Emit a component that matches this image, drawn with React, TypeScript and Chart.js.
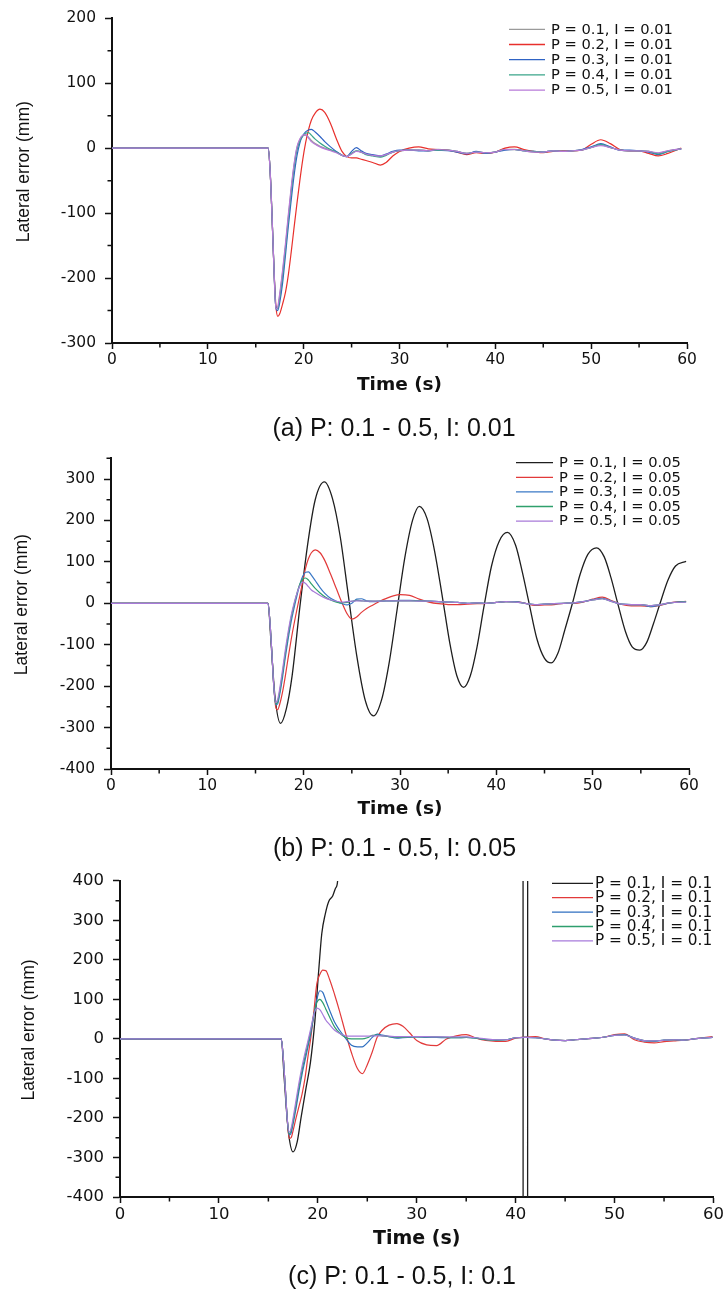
import React, { useEffect, useRef } from 'react';
import { Chart, registerables } from 'chart.js';

Chart.register(...registerables);

// ---------- shared axis ticks ----------
const X_TICKS = [0, 10, 20, 30, 40, 50, 60];
const X_MINOR = [5, 15, 25, 35, 45, 55];
const X_TITLE = 'Time (s)';
const Y_TITLE = 'Lateral error (mm)';

// ---------- (a) P: 0.1 - 0.5, I: 0.01 ----------
const TIME_A = [0, 16.3, 16.5, 16.7, 16.9, 17.1, 17.3, 17.5, 17.8, 18.1, 18.4, 18.7, 19.0, 19.3, 19.6, 19.9, 20.2, 20.5, 20.8, 21.2, 21.7, 22.2, 22.8, 23.4, 24.0, 24.5, 25.0, 25.5, 26.0, 26.5, 27.2, 28.0, 28.6, 29.3, 30, 31, 32, 33, 34, 35, 36, 37, 38, 39, 40, 41, 42, 43, 44, 45, 46, 47, 48, 49, 50, 51, 52, 53, 54, 55, 56, 57, 58, 59.4];
const A_P1 = [0, 0, -35, -105, -185, -246, -246, -227, -192, -152, -107, -64, -27, 0, 13, 19, 20, 17, 12, 7, 3, 0, -3, -6, -11, -13, -8, -4, -6, -9, -11, -13, -10, -6, -4, -3, -3, -4, -2, -3, -5, -8, -6, -7, -6, -2, -2, -4, -6, -6, -4, -5, -4, -3, 1, 5, 1, -3, -4, -4, -5, -8, -4, -1];
const A_P2 = [0, 0, -35, -105, -185, -242, -259, -255, -240, -222, -195, -160, -122, -85, -50, -18, 8, 28, 43, 54, 60, 55, 38, 15, -5, -13, -15, -15, -17, -19, -22, -26, -22, -12, -5, 0, 2, -1, -2, -3, -6, -10, -7, -8, -6, 0, 2, -2, -5, -7, -5, -4, -4, -3, 6, 13, 7, -2, -4, -4, -8, -12, -8, 0];
const A_P3 = [0, 0, -35, -105, -185, -245, -250, -238, -208, -165, -120, -80, -42, -12, 8, 19, 25, 28, 29, 25, 18, 10, 2, -5, -11, -13, -5, 1, -4, -8, -10, -12, -9, -5, -3, -3, -4, -4, -3, -4, -6, -9, -5, -8, -6, -3, -2, -4, -5, -6, -4, -5, -4, -2, 2, 7, 2, -3, -3, -4, -6, -10, -5, -1];
const A_P4 = [0, 0, -35, -105, -185, -247, -247, -230, -197, -155, -110, -68, -30, -3, 11, 19, 23, 24, 20, 14, 8, 3, -2, -6, -11, -13, -8, -4, -6, -10, -12, -14, -11, -6, -4, -3, -3, -4, -3, -3, -5, -8, -6, -7, -6, -2, -2, -4, -5, -6, -4, -5, -4, -3, 1, 6, 1, -3, -4, -4, -5, -9, -5, -1];
const A_P5 = [0, 0, -35, -105, -185, -248, -244, -224, -188, -147, -102, -60, -24, 2, 14, 20, 21, 16, 10, 6, 2, -1, -4, -7, -11, -13, -9, -5, -6, -9, -11, -12, -10, -6, -4, -3, -3, -4, -2, -3, -5, -8, -6, -7, -6, -2, -2, -4, -6, -6, -4, -5, -4, -3, 1, 4, 1, -3, -4, -4, -5, -7, -4, -1];
const LABELS_A = ['P = 0.1, I = 0.01', 'P = 0.2, I = 0.01', 'P = 0.3, I = 0.01', 'P = 0.4, I = 0.01', 'P = 0.5, I = 0.01'];
const COLORS_A = ['#9a9a9a', '#e8302c', '#2f63c4', '#3aa58a', '#b77ad8'];
const Y_TICKS_A = [-300, -200, -100, 0, 100, 200];
const Y_MINOR_A = [-250, -150, -50, 50, 150];

// ---------- (b) P: 0.1 - 0.5, I: 0.05 ----------
const TIME_B = [0, 16.3, 16.5, 16.7, 16.9, 17.1, 17.3, 17.5, 17.8, 18.1, 18.4, 18.7, 19.0, 19.3, 19.6, 19.9, 20.2, 20.5, 20.8, 21.2, 21.7, 22.2, 22.8, 23.4, 24.0, 24.5, 25.0, 25.5, 26.0, 26.5, 27.2, 28.0, 28.6, 29.3, 30, 31, 32, 33, 34, 35, 36, 37, 38, 39, 40, 41, 42, 43, 44, 45, 46, 47, 48, 49, 50, 51, 52, 53, 54, 55, 56, 57, 58, 59.7];
const TIME_B_P1 = [0, 16.3, 16.6, 17.0, 17.6, 18.2, 18.8, 19.6, 20.4, 21.2, 22.15, 23.0, 23.8, 24.6, 25.5, 26.4, 27.25, 28.1, 28.9, 29.7, 30.5, 31.3, 32.0, 32.8, 33.6, 34.4, 35.2, 35.9, 36.6, 37.3, 38.0, 38.7, 39.5, 40.3, 41.15, 42.0, 42.7, 43.4, 44.2, 45.0, 45.7, 46.4, 47.1, 47.9, 48.7, 49.5, 50.4, 51.2, 51.9, 52.6, 53.4, 54.1, 54.9, 55.6, 56.3, 57.0, 57.8, 58.6, 59.7];
const B_P1 = [0, 0, -90, -220, -290, -255, -175, -10, 140, 250, 293, 252, 160, 25, -125, -235, -272, -232, -140, -15, 110, 200, 234, 205, 125, 15, -100, -175, -203, -175, -105, -10, 90, 150, 171, 140, 75, 0, -85, -133, -144, -120, -65, 0, 70, 118, 134, 112, 62, 0, -68, -105, -113, -95, -50, 0, 55, 90, 101];
const B_P2 = [0, 0, -45, -120, -200, -250, -257, -245, -215, -175, -130, -88, -50, -15, 18, 52, 85, 108, 122, 129, 122, 103, 70, 35, 0, -25, -38, -33, -22, -13, -4, 6, 12, 18, 21, 19, 10, 3, -1, -3, -3, -2, -1, 0, 2, 4, 4, 0, -5, -4, -3, 0, 0, 3, 10, 15, 6, -3, -6, -6, -8, -5, 1, 5];
const B_P3 = [0, 0, -45, -120, -200, -245, -243, -222, -180, -130, -85, -45, -12, 18, 45, 65, 75, 76, 68, 55, 38, 24, 12, 5, -1, -4, 0, 10, 11, 6, 4, 5, 6, 6, 7, 7, 6, 5, 4, 3, 2, 0, 1, 0, 2, 4, 4, 0, -3, -2, -1, 0, 1, 4, 9, 12, 5, -2, -3, -3, -8, -4, 1, 4];
const B_P4 = [0, 0, -45, -120, -200, -243, -238, -215, -170, -120, -75, -35, -4, 24, 46, 58, 61, 56, 47, 36, 25, 16, 8, 3, 1, 2, 5, 7, 6, 5, 5, 5, 6, 6, 6, 6, 6, 5, 4, 3, 2, 0, 1, 0, 2, 4, 3, 0, -3, -2, -1, 0, 1, 4, 8, 11, 4, -2, -3, -3, -6, -3, 1, 4];
const B_P5 = [0, 0, -45, -120, -200, -240, -232, -208, -162, -112, -68, -30, 0, 24, 42, 51, 48, 40, 32, 26, 19, 13, 8, 5, 3, 4, 5, 6, 6, 5, 5, 5, 6, 6, 6, 6, 5, 5, 4, 3, 2, 0, 1, 0, 2, 4, 3, 0, -3, -2, -1, 0, 1, 4, 8, 11, 4, -2, -3, -3, -6, -3, 1, 3];
const LABELS_B = ['P = 0.1, I = 0.05', 'P = 0.2, I = 0.05', 'P = 0.3, I = 0.05', 'P = 0.4, I = 0.05', 'P = 0.5, I = 0.05'];
const COLORS_B = ['#1e1e1e', '#e23a3a', '#3a78c6', '#2fa06c', '#a87ad8'];
const Y_TICKS_B = [-400, -300, -200, -100, 0, 100, 200, 300];
const Y_MINOR_B = [-350, -250, -150, -50, 50, 150, 250, 350];

// ---------- (c) P: 0.1 - 0.5, I: 0.1 ----------
const TIME_C = [0, 16.3, 16.5, 16.7, 16.9, 17.1, 17.3, 17.5, 17.8, 18.1, 18.4, 18.7, 19.0, 19.3, 19.6, 19.9, 20.2, 20.5, 20.8, 21.2, 21.7, 22.2, 22.8, 23.4, 24.0, 24.5, 25.0, 25.5, 26.0, 26.5, 27.2, 28.0, 28.6, 29.3, 30, 31, 32, 33, 34, 35, 36, 37, 38, 39, 40, 41, 42, 43, 44, 45, 46, 47, 48, 49, 50, 51, 52, 53, 54, 55, 56, 57, 58, 59.9];
const TIME_C_P1 = [0, 16.3, 16.6, 17.0, 17.5, 17.9, 18.3, 18.8, 19.25, 19.7, 20.1, 20.4, 20.75, 21.1, 21.5, 21.8, 22.0, 22.4, 40.72, 40.78, 41.18, 41.24, 60];
const C_P1 = [0, 0, -100, -230, -286, -262, -200, -125, -60, 45, 177, 267, 316, 348, 362, 382, 400, 700, 5000, -5000, -5000, 5000, 5000];
const C_P2 = [0, 0, -45, -120, -200, -252, -250, -232, -200, -170, -140, -100, -45, 5, 70, 140, 163, 174, 173, 150, 112, 70, 15, -35, -75, -88, -65, -33, 4, 22, 35, 39, 32, 15, -4, -15, -17, 0, 8, 11, 2, -4, -6, -6, 2, 5, 6, 0, -3, -4, -2, 0, 2, 5, 11, 13, -2, -8, -10, -7, -5, -3, 0, 6];
const C_P3 = [0, 0, -45, -120, -200, -243, -238, -215, -175, -130, -90, -55, -20, 15, 60, 100, 122, 118, 98, 72, 42, 22, 2, -16, -20, -20, -10, 4, 12, 10, 6, 2, 3, 4, 5, 4, 4, 3, 3, 4, 2, -2, -3, -2, 3, 4, 3, 0, -3, -4, -2, 0, 2, 5, 9, 11, 2, -5, -6, -3, -2, -3, 0, 4];
const C_P4 = [0, 0, -45, -120, -200, -240, -232, -208, -165, -120, -80, -45, -12, 22, 62, 92, 100, 92, 76, 55, 30, 15, 4, 0, 0, 0, 3, 9, 10, 8, 6, 4, 4, 5, 5, 5, 5, 4, 3, 4, 2, -2, -3, -2, 3, 4, 3, 0, -3, -4, -2, 0, 2, 5, 9, 10, 2, -4, -5, -3, -2, -3, 0, 4];
const C_P5 = [0, 0, -45, -120, -200, -236, -226, -200, -155, -110, -70, -36, -5, 28, 62, 78, 74, 62, 48, 36, 22, 14, 8, 7, 7, 7, 7, 8, 8, 8, 7, 6, 6, 6, 6, 6, 5, 5, 5, 5, 3, 0, -2, -2, 3, 4, 3, 0, -3, -4, -2, 0, 2, 5, 9, 10, 2, -4, -5, -3, -2, -3, 0, 4];
const LABELS_C = ['P = 0.1, I = 0.1', 'P = 0.2, I = 0.1', 'P = 0.3, I = 0.1', 'P = 0.4, I = 0.1', 'P = 0.5, I = 0.1'];
const COLORS_C = ['#1e1e1e', '#e23a3a', '#2f6fc0', '#2e9e6e', '#a77bdb'];
const Y_TICKS_C = [-400, -300, -200, -100, 0, 100, 200, 300, 400];
const Y_MINOR_C = [-350, -250, -150, -50, 50, 150, 250, 350];

const W = 726;
const TXT = '#111';

type Series = { label: string; color: string; x: number[]; y: number[] };
type PanelProps = {
  top: number;
  height: number;
  area: { left: number; right: number; top: number; bottom: number };
  yMin: number;
  yMax: number;
  yTicks: number[];
  yMinor: number[];
  series: Series[];
  legend: { x0: number; x1: number; tx: number; y0: number; dy: number; size: number };
  tickSize: number;
  xTitleSize: number;
  yTitleX: number;
  xTitlePad: number;
};

function Panel(p: PanelProps) {
  const ref = useRef<HTMLCanvasElement | null>(null);
  useEffect(() => {
    const canvas = ref.current;
    if (!canvas) return;
    const extras = {
      id: 'extras',
      afterDraw(chart: any) {
        const { ctx, chartArea: ca, scales } = chart;
        const xs = scales.x;
        const ys = scales.y;
        ctx.save();
        // minor ticks
        ctx.strokeStyle = TXT;
        ctx.lineWidth = 1.5;
        ctx.beginPath();
        X_MINOR.forEach((v) => {
          const px = xs.getPixelForValue(v);
          ctx.moveTo(px, ca.bottom + 1);
          ctx.lineTo(px, ca.bottom + 4.5);
        });
        p.yMinor.forEach((v) => {
          const py = ys.getPixelForValue(v);
          ctx.moveTo(ca.left - 1, py);
          ctx.lineTo(ca.left - 4.5, py);
        });
        ctx.stroke();
        // y axis title
        ctx.save();
        ctx.translate(p.yTitleX, (ca.top + ca.bottom) / 2 - 9);
        ctx.rotate(-Math.PI / 2);
        ctx.font = '17.5px "Liberation Sans"';
        ctx.textAlign = 'center';
        ctx.textBaseline = 'middle';
        ctx.fillStyle = TXT;
        ctx.fillText(Y_TITLE, 0, 0);
        ctx.restore();
        // legend
        ctx.font = `${p.legend.size}px "DejaVu Sans"`;
        ctx.textBaseline = 'middle';
        ctx.textAlign = 'left';
        chart.data.datasets.forEach((ds: any, i: number) => {
          const y = p.legend.y0 - p.top + i * p.legend.dy;
          ctx.strokeStyle = ds.borderColor;
          ctx.lineWidth = 1.3;
          ctx.beginPath();
          ctx.moveTo(p.legend.x0, y);
          ctx.lineTo(p.legend.x1, y);
          ctx.stroke();
          ctx.fillStyle = TXT;
          ctx.fillText(ds.label, p.legend.tx, y + 0.5);
        });
        ctx.restore();
      },
    };
    const n = p.series.length;
    const chart = new Chart(canvas, {
      type: 'line',
      data: {
        datasets: p.series.map((s, i) => ({
          label: s.label,
          data: s.x.map((t, j) => ({ x: t, y: s.y[j] })),
          borderColor: s.color,
          backgroundColor: s.color,
          borderWidth: i === 0 ? 1.3 : 1.2,
          pointRadius: 0,
          fill: false,
          cubicInterpolationMode: 'monotone' as const,
          order: n - 1 - i,
        })),
      },
      options: {
        responsive: false,
        animation: false,
        devicePixelRatio: 1,
        events: [],
        layout: {
          padding: { left: 0, top: p.area.top - p.top, right: W - p.area.right, bottom: 0 },
        },
        plugins: { legend: { display: false }, tooltip: { enabled: false } },
        scales: {
          x: {
            type: 'linear',
            position: 'bottom',
            min: 0,
            max: 60,
            afterFit: (s: any) => {
              s.height = p.top + p.height - p.area.bottom;
            },
            afterBuildTicks: (s: any) => {
              s.ticks = X_TICKS.map((v) => ({ value: v }));
            },
            ticks: {
              color: TXT,
              font: { family: 'DejaVu Sans', size: p.tickSize },
              padding: 2,
              maxRotation: 0,
              autoSkip: false,
            },
            grid: { drawOnChartArea: false, drawTicks: true, tickLength: 6, tickWidth: 1.5, tickColor: TXT },
            border: { display: true, color: TXT, width: 2 },
            title: {
              display: true,
              text: X_TITLE,
              color: TXT,
              font: { family: 'DejaVu Sans', size: p.xTitleSize, weight: 'bold' },
              padding: { top: 0, bottom: p.xTitlePad },
            },
          },
          y: {
            type: 'linear',
            position: 'left',
            min: p.yMin,
            max: p.yMax,
            afterFit: (s: any) => {
              s.width = p.area.left;
            },
            afterBuildTicks: (s: any) => {
              s.ticks = p.yTicks.map((v) => ({ value: v }));
            },
            ticks: {
              color: TXT,
              font: { family: 'DejaVu Sans', size: p.tickSize },
              padding: 9,
              autoSkip: false,
            },
            grid: { drawOnChartArea: false, drawTicks: true, tickLength: 7, tickWidth: 1.5, tickColor: TXT },
            border: { display: true, color: TXT, width: 2 },
            title: { display: false },
          },
        },
      },
      plugins: [extras],
    } as any);
    return () => chart.destroy();
  }, []);
  return (
    <canvas
      ref={ref}
      width={W}
      height={p.height}
      style={{ position: 'absolute', left: 0, top: p.top, width: W, height: p.height }}
    />
  );
}

function Caption({ text, cx, cy }: { text: string; cx: number; cy: number }) {
  return (
    <div
      style={{
        position: 'absolute',
        left: cx - 250,
        width: 500,
        top: cy - 16,
        height: 32,
        lineHeight: '32px',
        textAlign: 'center',
        fontFamily: '"Liberation Sans", Arial, sans-serif',
        fontSize: 25,
        color: TXT,
        whiteSpace: 'nowrap',
      }}
    >
      {text}
    </div>
  );
}

const mk = (labels: string[], colors: string[], xs: number[][], ys: number[][]): Series[] =>
  labels.map((l, i) => ({ label: l, color: colors[i], x: xs[i], y: ys[i] }));

export default function App() {
  const seriesA = mk(LABELS_A, COLORS_A, [TIME_A, TIME_A, TIME_A, TIME_A, TIME_A], [A_P1, A_P2, A_P3, A_P4, A_P5]);
  const seriesB = mk(LABELS_B, COLORS_B, [TIME_B_P1, TIME_B, TIME_B, TIME_B, TIME_B], [B_P1, B_P2, B_P3, B_P4, B_P5]);
  const seriesC = mk(LABELS_C, COLORS_C, [TIME_C_P1, TIME_C, TIME_C, TIME_C, TIME_C], [C_P1, C_P2, C_P3, C_P4, C_P5]);
  return (
    <div style={{ position: 'absolute', left: 0, top: 0, width: W, height: 1290, background: '#fff', overflow: 'hidden' }}>
      <Panel
        top={0}
        height={400}
        area={{ left: 112, right: 687, top: 15, bottom: 343 }}
        yMin={-300}
        yMax={200}
        yTicks={Y_TICKS_A}
        yMinor={Y_MINOR_A}
        series={seriesA}
        legend={{ x0: 509, x1: 545, tx: 551, y0: 29.3, dy: 15.2, size: 14.7 }}
        tickSize={15.5}
        xTitleSize={18.5}
        yTitleX={24.5}
        xTitlePad={4}
      />
      <Panel
        top={440}
        height={390}
        area={{ left: 111, right: 689, top: 453, bottom: 769 }}
        yMin={-400}
        yMax={350}
        yTicks={Y_TICKS_B}
        yMinor={Y_MINOR_B}
        series={seriesB}
        legend={{ x0: 516, x1: 553, tx: 559, y0: 462.7, dy: 14.6, size: 14.7 }}
        tickSize={15.5}
        xTitleSize={18.5}
        yTitleX={22}
        xTitlePad={10}
      />
      <Panel
        top={862}
        height={400}
        area={{ left: 120, right: 715, top: 873, bottom: 1197 }}
        yMin={-400}
        yMax={400}
        yTicks={Y_TICKS_C}
        yMinor={Y_MINOR_C}
        series={seriesC}
        legend={{ x0: 552, x1: 593, tx: 595, y0: 883.3, dy: 14.4, size: 15.3 }}
        tickSize={16.5}
        xTitleSize={19}
        yTitleX={29}
        xTitlePad={12}
      />
      <Caption text="(a) P: 0.1 - 0.5, I: 0.01" cx={394} cy={427} />
      <Caption text="(b) P: 0.1 - 0.5, I: 0.05" cx={394.5} cy={847} />
      <Caption text="(c) P: 0.1 - 0.5, I: 0.1" cx={402} cy={1275} />
    </div>
  );
}
